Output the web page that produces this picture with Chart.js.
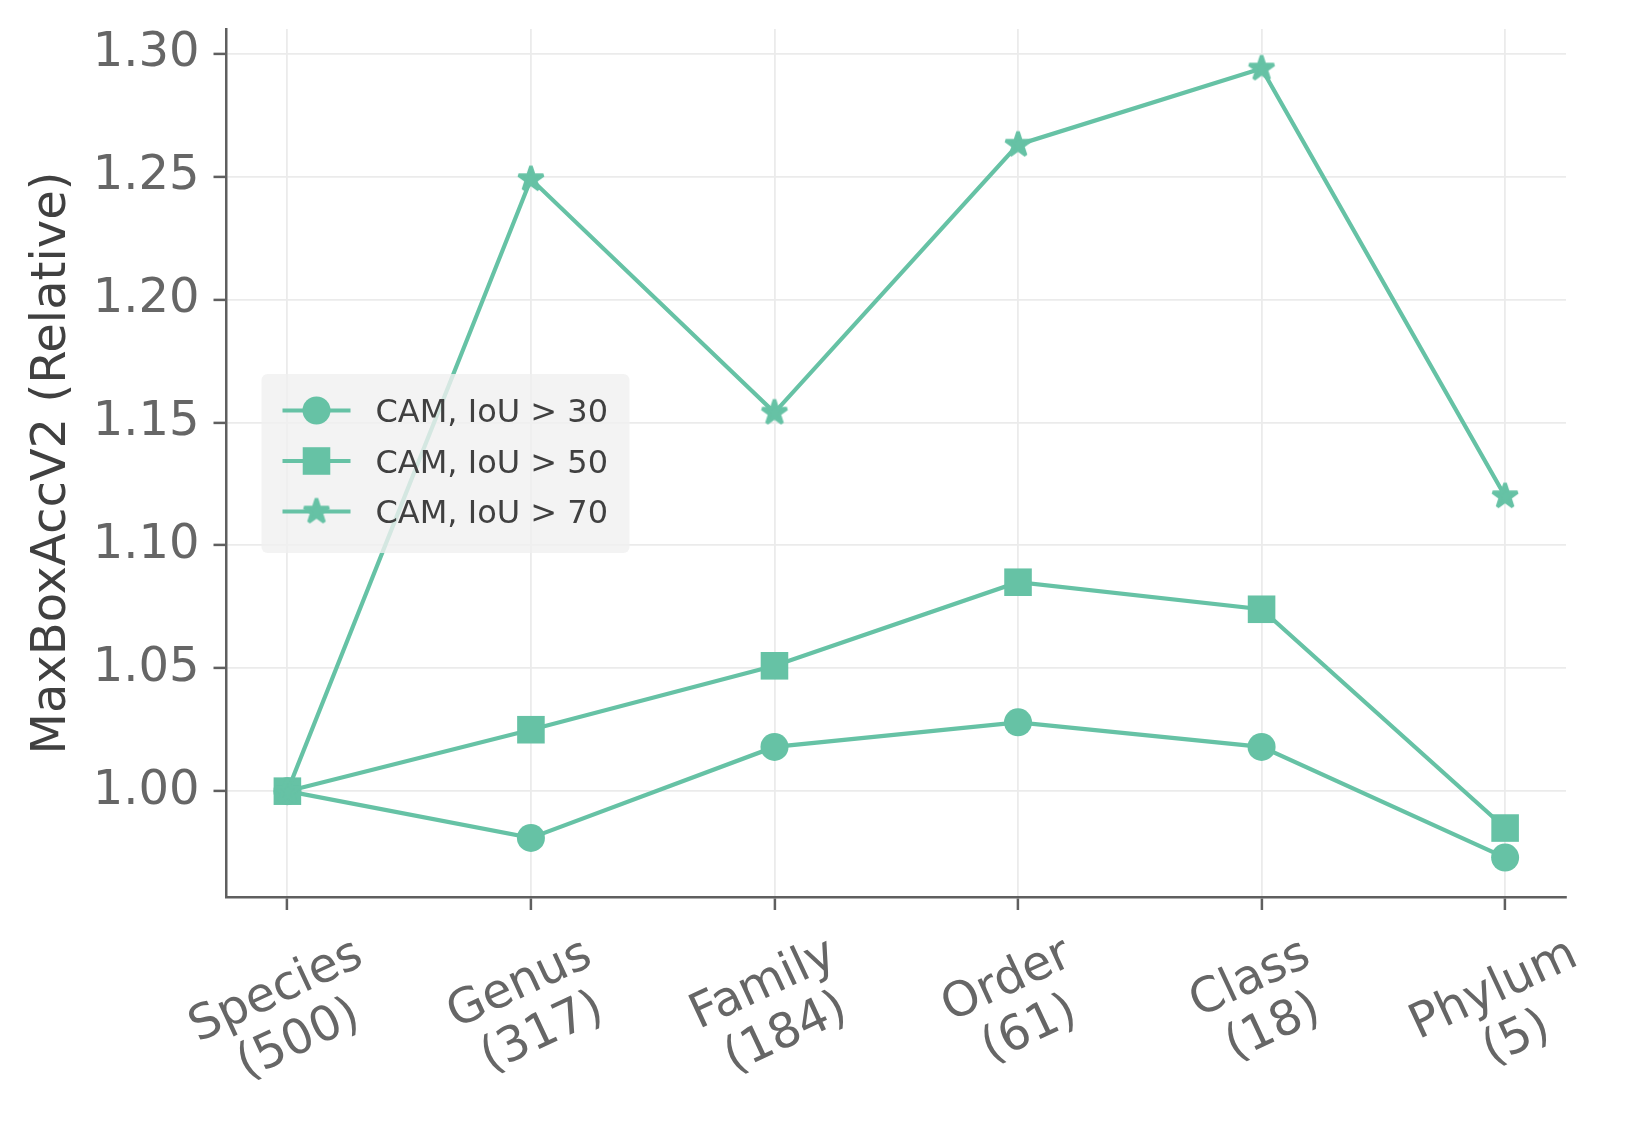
<!DOCTYPE html>
<html>
<head>
<meta charset="utf-8">
<script src="https://cdn.jsdelivr.net/npm/chart.js@4.4.1/dist/chart.umd.min.js"></script>
<style>
  html, body { margin: 0; padding: 0; background: #ffffff; }
  canvas { display: block; }
</style>
</head>
<body>
<canvas id="chart" width="1636" height="1125"></canvas>
<script>
// data
const categories = ["Species", "Genus", "Family", "Order", "Class", "Phylum"];
const classCounts = ["(500)", "(317)", "(184)", "(61)", "(18)", "(5)"];
const seriesNames = ["CAM, IoU > 30", "CAM, IoU > 50", "CAM, IoU > 70"];
const iou30 = [1.000, 0.981, 1.018, 1.028, 1.018, 0.973];
const iou50 = [1.000, 1.025, 1.051, 1.085, 1.074, 0.985];
const iou70 = [1.000, 1.249, 1.154, 1.263, 1.294, 1.120];
const yTickStep = 0.05;
const yTitle = "MaxBoxAccV2 (Relative)";

const green = "#66c2a5";
const gridColor = "#ebebeb";
const axisColor = "#5f5f5f";
const tickColor = "#666666";
const labelColor = "#404040";
const font = "DejaVu Sans";

// filled five point star like matplotlib's '*'
function makeStar(r, color) {
    const s = Math.ceil(r * 2 + 8);
    const c = document.createElement("canvas");
    c.width = s; c.height = s;
    const g = c.getContext("2d");
    g.translate(s / 2, s / 2);
    g.beginPath();
    for (let i = 0; i < 10; i++) {
        const rad = i % 2 === 0 ? r : r * 0.381966;
        const a = -Math.PI / 2 + i * Math.PI / 5;
        g.lineTo(rad * Math.cos(a), rad * Math.sin(a));
    }
    g.closePath();
    g.fillStyle = color;
    g.fill();
    g.strokeStyle = color;
    g.lineWidth = 3.5;
    g.lineJoin = "bevel";
    g.stroke();
    return c;
}
const star = makeStar(13, green);

const allValues = iou30.concat(iou50, iou70);
const dMin = Math.min(...allValues), dMax = Math.max(...allValues);
const yMin = dMin - 0.05 * (dMax - dMin);
const yMax = dMax + 0.05 * (dMax - dMin);

const seriesValues = [iou30, iou50, iou70];
const pointStyles = ["circle", "rect", star];
const pointRadii = [14, 19.5, 14];

// rotated, centred two-line category labels (matplotlib style)
const xLabels = {
    id: "xLabels",
    afterDraw(chart) {
        const ctx = chart.ctx, xs = chart.scales.x;
        const fs = 48, ang = 25 * Math.PI / 180;
        ctx.save();
        ctx.font = fs + "px '" + font + "'";
        ctx.fillStyle = tickColor;
        ctx.textAlign = "center";
        ctx.textBaseline = "alphabetic";
        categories.forEach((cat, i) => {
            const lines = [cat, classCounts[i]];
            const W = Math.max(...lines.map(l => ctx.measureText(l).width));
            const H = 2.088 * fs;
            const bh = W * Math.sin(ang) + H * Math.cos(ang);
            const cx = xs.getPixelForValue(i);
            const cy = xs.top + 34 + bh / 2;
            ctx.save();
            ctx.translate(cx, cy);
            ctx.rotate(-ang);
            ctx.fillText(lines[0], 0, -0.284 * fs);
            ctx.fillText(lines[1], 0, 0.836 * fs);
            ctx.restore();
        });
        ctx.restore();
    }
};

// legend box inside the plot, centre left
const boxLegend = {
    id: "boxLegend",
    afterDatasetsDraw(chart) {
        const ctx = chart.ctx, area = chart.chartArea;
        const bx = area.left + 35, by = area.top + 345, bw = 368, bh = 179;
        ctx.save();
        ctx.fillStyle = "rgba(240,240,240,0.8)";
        ctx.beginPath();
        ctx.roundRect(bx, by, bw, bh, 6);
        ctx.fill();
        ctx.font = "32px '" + font + "'";
        ctx.textAlign = "left";
        ctx.textBaseline = "alphabetic";
        chart.data.datasets.forEach((ds, k) => {
            const ry = by + 36.5 + k * 50.5;
            ctx.strokeStyle = ds.borderColor;
            ctx.lineWidth = ds.borderWidth;
            ctx.beginPath();
            ctx.moveTo(bx + 21, ry);
            ctx.lineTo(bx + 89, ry);
            ctx.stroke();
            ctx.fillStyle = ds.pointBackgroundColor;
            Chart.helpers.drawPoint(ctx, {
                pointStyle: ds.pointStyle, radius: ds.pointRadius, rotation: 0, borderWidth: 0
            }, bx + 55, ry);
            ctx.fillStyle = labelColor;
            ctx.fillText(ds.label, bx + 114, ry + 11.7);
        });
        ctx.restore();
    }
};

let myChart;
window.addEventListener("load", () => {
    const ctx = document.getElementById("chart");
    myChart = new Chart(ctx, {
        type: "line",
        data: {
            datasets: seriesValues.map((vals, k) => ({
                label: seriesNames[k],
                data: vals.map((v, i) => ({ x: i, y: v })),
                borderColor: green,
                backgroundColor: green,
                borderWidth: 4.2,
                pointStyle: pointStyles[k],
                pointRadius: pointRadii[k],
                pointBackgroundColor: green,
                pointBorderWidth: 0,
                tension: 0,
                order: 3 - k,
                clip: false
            }))
        },
        options: {
            responsive: false,
            animation: false,
            layout: { padding: { top: 29, right: 70, left: 0, bottom: 0 }, autoPadding: false },
            plugins: { legend: { display: false }, tooltip: { enabled: false } },
            scales: {
                x: {
                    type: "linear",
                    min: -0.25,
                    max: 5.25,
                    afterFit: (s) => { s.height = 228; s.paddingLeft = 0; s.paddingRight = 0; },
                    grid: { color: gridColor, lineWidth: 1.8, tickColor: axisColor, tickLength: 13, tickWidth: 2.5 },
                    border: { color: axisColor, width: 2.5 },
                    ticks: { display: false, stepSize: 1, includeBounds: false }
                },
                y: {
                    type: "linear",
                    min: yMin,
                    max: yMax,
                    afterFit: (s) => { s.width = 226.5; s.paddingTop = 0; s.paddingBottom = 0; },
                    grid: { color: gridColor, lineWidth: 1.8, tickColor: axisColor, tickLength: 13, tickWidth: 2.5 },
                    border: { color: axisColor, width: 2.5 },
                    ticks: {
                        stepSize: yTickStep,
                        includeBounds: false,
                        padding: 14,
                        color: tickColor,
                        font: { family: font, size: 48 },
                        callback: (v) => v.toFixed(2)
                    },
                    title: {
                        display: true,
                        text: yTitle,
                        color: labelColor,
                        font: { family: font, size: 48 },
                        padding: { top: 23.5, bottom: 0 }
                    }
                }
            }
        },
        plugins: [xLabels, boxLegend]
    });
});
</script>
</body>
</html>
